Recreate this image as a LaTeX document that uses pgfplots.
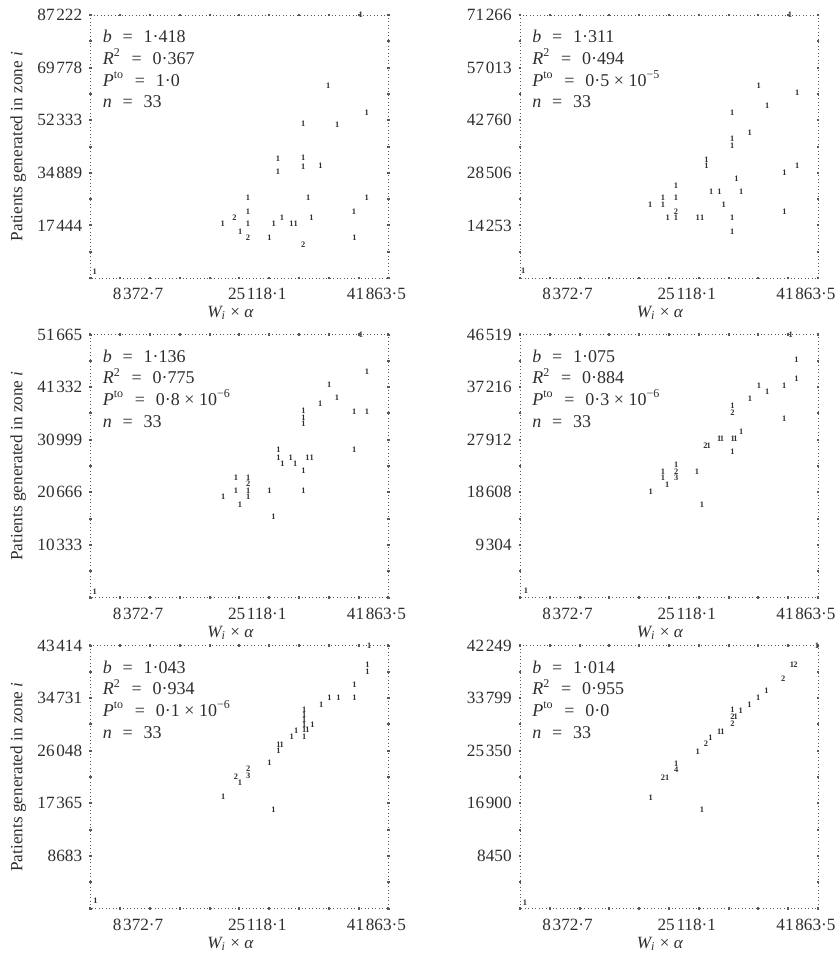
\documentclass[border=0pt]{standalone}
\usepackage{fontspec}
\setmainfont{Liberation Serif}
\usepackage{pgfplots}
\pgfplotsset{compat=1.18}

\definecolor{ink}{gray}{0.18}
\definecolor{frame}{gray}{0.35}
\newcommand\ts{\kern0.1em}
\newcommand\eq{\hspace{0.6em}=\hspace{0.6em}}
\newcommand\lbl{\fontsize{8.6}{10}\selectfont}

% four lines of regression statistics in the upper left corner
\newcommand\stats[4]{%
  \node[anchor=base west, inner sep=0pt, font=\fontsize{9}{10}\selectfont, text=ink] at (axis description cs:0.04,0.895) {#1};
  \node[anchor=base west, inner sep=0pt, font=\fontsize{9}{10}\selectfont, text=ink] at (axis description cs:0.04,0.8125) {#2};
  \node[anchor=base west, inner sep=0pt, font=\fontsize{9}{10}\selectfont, text=ink] at (axis description cs:0.04,0.730) {#3};
  \node[anchor=base west, inner sep=0pt, font=\fontsize{9}{10}\selectfont, text=ink] at (axis description cs:0.04,0.6475) {#4};
}

\pgfplotsset{
  panel/.style={
    scale only axis, width=149pt, height=131.5pt,
    xmin=0, xmax=41863.5, ymin=0,
    scaled ticks=false,
    xtick={0,4186.35,8372.7,12559.05,16745.4,20931.75,25118.1,29304.45,33490.8,37677.15,41863.5},
    xticklabels={,,8\ts372·7,,,,25\ts118·1,,,,41\ts863·5},
    tick align=center, major tick length=1.3pt,
    tick style={line width=1pt, frame},
    axis line style={frame, line width=0.45pt, dash pattern=on 0.45pt off 1.3pt},
    xticklabel style={xshift=-6pt, yshift=-1pt},
    tick label style={font=\lbl, text=ink},
    label style={font=\lbl, text=ink},
    xlabel={\textit{W\textsubscript{i}} × \textit{α}},
    xlabel style={at={(axis description cs:0.47,-0.133)}, anchor=center},
    clip=false,
  },
  leftcol/.style={
    ylabel={Patients generated in zone \textit{i}},
    ylabel style={at={(axis description cs:-0.242,0.5)}, anchor=center},
  },
  counts/.style={
    only marks, mark=*, mark size=0pt, mark options={draw=none, fill=none},
    point meta=explicit symbolic,
    nodes near coords={\pgfplotspointmeta},
    nodes near coords style={anchor=center, inner sep=0pt, text=ink,
      font=\fontsize{4.2}{5}\selectfont\bfseries},
  },
}

\begin{document}
\begin{tikzpicture}
\useasboundingbox (0,0) rectangle (420pt,-477.5pt);

% ---- row 1, left ----
\begin{axis}[panel, leftcol, at={(45.25pt,-7.5pt)}, anchor=north west,
  ymax=87222,
  ytick={0,8722.2,17444.4,26166.6,34888.8,43611,52333.2,61055.4,69777.6,78499.8,87222},
  yticklabels={,,17\ts444,,34\ts889,,52\ts333,,69\ts778,,87\ts222}]
\addplot[counts] table[meta=c] {
x y c
33398 63709 1
38803 54863 1
29871 51020 1
34668 50788 1
26343 39425 1
29871 39756 1
29871 36973 1
32312 37205 1
26343 35118 1
22110 26703 1
30576 26703 1
38803 26703 1
22110 22065 1
37011 22065 1
20220 20077 2
26908 20077 1
31042 20077 1
18583 17890 1
22110 17890 1
25723 17890 1
28220 17890 1
28827 17890 1
21024 15439 1
22110 13252 2
25158 13252 1
37067 13252 1
29871 11132 2
607 2187 1
37956 87222 1
};
\stats{\textit{b}\eq 1·418}{\textit{R}\textsuperscript{2}\eq 0·367}{\textit{P}\textsuperscript{to}\eq 1·0}{\textit{n}\eq 33}
\end{axis}

% ---- row 1, right ----
\begin{axis}[panel, at={(260pt,-7.5pt)}, anchor=north west,
  ymax=71266,
  ytick={0,7126.6,14253.2,21379.8,28506.4,35633,42759.6,49886.2,57012.8,64139.4,71266},
  yticklabels={,,14\ts253,,28\ts506,,42\ts760,,57\ts013,,71\ts266}]
\addplot[counts] table[meta=c] {
x y c
33553 52008 1
38959 50191 1
34735 46582 1
29807 44765 1
32285 39339 1
29807 37629 1
29807 35730 1
26189 32122 1
26189 30304 1
38959 30304 1
37171 28595 1
30413 26967 1
21923 24960 1
26851 23332 1
28019 23332 1
31075 23332 1
20092 21704 1
21923 21704 1
18304 19913 1
20092 19913 1
28625 19724 1
21923 17906 2
37171 17906 1
20740 16278 1
21923 16278 1
24964 16278 1
25583 16278 1
29807 16278 1
29807 12480 1
465 1899 1
37917 71266 1
};
\stats{\textit{b}\eq 1·311}{\textit{R}\textsuperscript{2}\eq 0·494}{\textit{P}\textsuperscript{to}\eq 0·5 × 10\textsuperscript{−5}}{\textit{n}\eq 33}
\end{axis}

% ---- row 2, left ----
\begin{axis}[panel, leftcol, at={(45.25pt,-167.25pt)}, anchor=north west,
  ymax=51665,
  ytick={0,5166.5,10333,15499.5,20666,25832.5,30999,36165.5,41332,46498.5,51665},
  yticklabels={,,10\ts333,,20\ts666,,30\ts999,,41\ts332,,51\ts665}]
\addplot[counts] table[meta=c] {
x y c
38833 44415 1
33529 41790 1
34612 39283 1
32263 37980 1
37046 36519 1
38833 36519 1
29913 36716 1
29913 35414 1
29913 34091 1
37046 28959 1
26395 28959 1
26395 27518 1
28140 27518 1
30476 27518 1
31095 27518 1
26958 26195 1
28745 26195 1
29913 24872 1
20444 23570 1
22174 23570 1
22174 22385 2
20444 20924 1
22174 20924 1
25129 20924 1
29913 20924 1
18657 19740 1
22174 19740 1
21007 18299 1
25692 15792 1
605 1184 1
37989 51665 1
};
\stats{\textit{b}\eq 1·136}{\textit{R}\textsuperscript{2}\eq 0·775}{\textit{P}\textsuperscript{to}\eq 0·8 × 10\textsuperscript{−6}}{\textit{n}\eq 33}
\end{axis}

% ---- row 2, right ----
\begin{axis}[panel, at={(260pt,-167.25pt)}, anchor=north west,
  ymax=46519,
  ytick={0,4651.9,9303.8,13955.7,18607.6,23259.5,27911.4,32563.3,37215.2,41867.1,46519},
  yticklabels={,,9\ts304,,18\ts608,,27\ts912,,37\ts216,,46\ts519}]
\addplot[counts] table[meta=c] {
x y c
38823 42097 1
38823 38679 1
33578 37492 1
37107 37492 1
34736 36429 1
32322 35243 1
29853 33950 1
29853 32764 2
37107 31595 1
31067 29345 1
27998 28053 1
28360 28053 1
29895 28053 1
30272 28053 1
26045 26866 2
26505 26866 1
29853 25803 1
21943 23501 1
21943 22315 2
20088 22315 1
20088 21146 1
21943 21146 3
24873 22315 1
20688 19959 1
18372 18773 1
25570 16364 1
837 1187 1
38042 46519 1
};
\stats{\textit{b}\eq 1·075}{\textit{R}\textsuperscript{2}\eq 0·884}{\textit{P}\textsuperscript{to}\eq 0·3 × 10\textsuperscript{−6}}{\textit{n}\eq 33}
\end{axis}

% ---- row 3, left ----
\begin{axis}[panel, leftcol, at={(45.25pt,-322.75pt)}, anchor=north west,
  ymax=43414,
  ytick={0,4341.4,8682.8,13024.2,17365.6,21707,26048.4,30389.8,34731.2,39072.6,43414},
  yticklabels={,,8683,,17\ts365,,26\ts048,,34\ts731,,43\ts414}]
\addplot[counts] table[meta=c] {
x y c
38918 40254 1
38918 39153 1
37089 36968 1
37089 34766 1
33571 34766 1
34837 34766 1
32403 33682 1
30011 32745 1
30011 31923 1
30011 31102 1
30011 30280 1
31179 30396 1
30011 29459 1
30476 29459 1
28886 29295 1
30011 28358 1
28281 28358 1
26395 27110 1
26874 27110 1
26395 26009 1
25129 23988 1
22174 23051 2
22174 21950 3
20444 21786 2
21007 20702 1
18657 18500 1
25692 16315 1
704 1249 1
39157 43414 1
};
\stats{\textit{b}\eq 1·043}{\textit{R}\textsuperscript{2}\eq 0·934}{\textit{P}\textsuperscript{to}\eq 0·1 × 10\textsuperscript{−6}}{\textit{n}\eq 33}
\end{axis}

% ---- row 3, right ----
\begin{axis}[panel, at={(260pt,-322.75pt)}, anchor=north west,
  ymax=42249,
  ytick={0,4224.9,8449.8,12674.7,16899.6,21124.5,25349.4,29574.3,33799.2,38024.1,42249},
  yticklabels={,,8450,,16\ts900,,25\ts350,,33\ts799,,42\ts249}]
\addplot[counts] table[meta=c] {
x y c
38223 39088 1
38683 39088 2
36968 36960 2
34638 34928 1
33480 33872 1
32225 32688 1
31011 31728 1
29853 32000 1
29853 30768 2
30313 30768 1
29853 29712 2
27998 28432 1
28458 28432 1
26742 27472 1
26128 26400 2
24971 25232 1
21943 23312 1
21943 22240 4
20088 21072 2
20688 21072 1
18372 17872 1
25570 15840 1
698 960 1
41711 42249 1
};
\stats{\textit{b}\eq 1·014}{\textit{R}\textsuperscript{2}\eq 0·955}{\textit{P}\textsuperscript{to}\eq 0·0}{\textit{n}\eq 33}
\end{axis}
\end{tikzpicture}
\end{document}
